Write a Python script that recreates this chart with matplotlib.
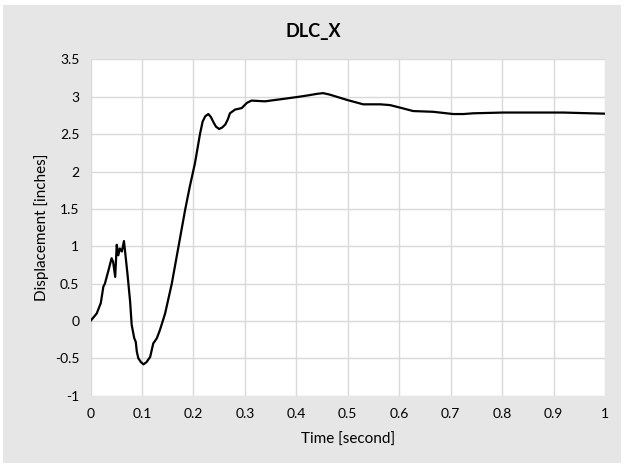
import matplotlib
matplotlib.use("Agg")
import matplotlib.pyplot as plt
from matplotlib.patches import Rectangle

plt.rcParams['font.family'] = ['Lato', 'DejaVu Sans']

# time [s] and displacement [in]
time = [0.0, 0.006, 0.012, 0.020, 0.025, 0.028, 0.035, 0.041, 0.044, 0.048, 0.051,
        0.054, 0.057, 0.061, 0.065, 0.068, 0.072, 0.077, 0.080, 0.085, 0.088,
        0.090, 0.093, 0.098, 0.103, 0.109, 0.116, 0.122, 0.129, 0.135, 0.145,
        0.158, 0.171, 0.184, 0.193, 0.203, 0.213, 0.218, 0.223, 0.229, 0.234,
        0.239, 0.244, 0.250, 0.256, 0.262, 0.267, 0.271, 0.281, 0.294, 0.304,
        0.313, 0.339, 0.372, 0.404, 0.423, 0.440, 0.452, 0.465, 0.498, 0.530,
        0.563, 0.582, 0.605, 0.627, 0.666, 0.705, 0.725, 0.744, 0.802, 0.854,
        0.919, 0.971, 1.0]
disp = [0.0, 0.05, 0.10, 0.24, 0.46, 0.50, 0.68, 0.84, 0.79, 0.59, 1.02,
        0.88, 0.97, 0.93, 1.07, 0.88, 0.62, 0.26, -0.05, -0.23, -0.28,
        -0.41, -0.50, -0.55, -0.58, -0.55, -0.48, -0.30, -0.23, -0.12, 0.10,
        0.50, 0.995, 1.49, 1.80, 2.11, 2.51, 2.67, 2.74, 2.77, 2.73,
        2.66, 2.60, 2.57, 2.59, 2.63, 2.70, 2.78, 2.83, 2.85, 2.92,
        2.95, 2.94, 2.97, 3.00, 3.02, 3.04, 3.05, 3.03, 2.96, 2.90,
        2.90, 2.89, 2.85, 2.81, 2.80, 2.77, 2.77, 2.78, 2.79, 2.79,
        2.79, 2.78, 2.775]

x_ticks = [0, 0.1, 0.2, 0.3, 0.4, 0.5, 0.6, 0.7, 0.8, 0.9, 1]
x_labels = ["0", "0.1", "0.2", "0.3", "0.4", "0.5", "0.6", "0.7", "0.8", "0.9", "1"]
y_ticks = [-1, -0.5, 0, 0.5, 1, 1.5, 2, 2.5, 3, 3.5]
y_labels = ["-1", "-0.5", "0", "0.5", "1", "1.5", "2", "2.5", "3", "3.5"]

W, H = 627, 465
fig = plt.figure(figsize=(W / 100, H / 100), dpi=100)
fig.patch.set_facecolor("white")

# grey chart area like Excel
fig.patches.append(Rectangle((3 / W, 2 / H), 618 / W, 458 / H, transform=fig.transFigure,
                             facecolor="#e7e6e6", edgecolor="none", zorder=-5))

ax = fig.add_axes([90.5 / W, (H - 395.7) / H, 514.5 / W, 336.2 / H])
ax.set_zorder(2)
ax.set_facecolor("white")
ax.plot(time, disp, color="black", linewidth=1.6, zorder=3, solid_joinstyle="round")

ax.set_xlim(0, 1)
ax.set_ylim(-1, 3.5)
ax.set_xticks(x_ticks)
ax.set_xticklabels(x_labels)
ax.set_yticks(y_ticks)
ax.set_yticklabels(y_labels)
ax.tick_params(length=0, labelsize=10, colors="black", pad=9)
ax.tick_params(axis="y", pad=8)
ax.grid(True, color="#d9d9d9", linewidth=1.0, zorder=1)
ax.set_axisbelow(True)
for s in ax.spines.values():
    s.set_visible(False)

ax.set_xlabel("Time [second]", fontsize=11, labelpad=9)
ax.set_ylabel("Displacement [inches]", fontsize=11, labelpad=4)
fig.text(0.5, 1 - 31 / H, "DLC_X", ha="center", va="center", fontsize=13, fontweight="bold",
         zorder=3)

fig.savefig("out.png", dpi=100)
